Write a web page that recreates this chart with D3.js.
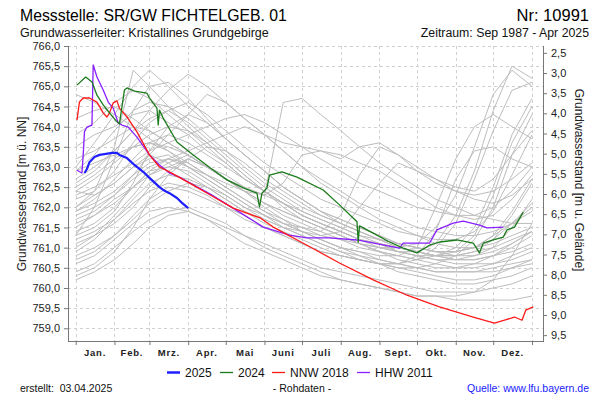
<!DOCTYPE html>
<html><head><meta charset="utf-8">
<script src="https://cdn.jsdelivr.net/npm/d3@7"></script>
<style>
body{margin:0;background:#fff;}
svg{display:block;font-family:"Liberation Sans",Arial,sans-serif;}
</style></head>
<body>
<svg id="c" width="600" height="400"></svg>
<script>
// ---------- data ----------
const months = ["Jan.","Feb.","Mrz.","Apr.","Mai","Juni","Juli","Aug.","Sept.","Okt.","Nov.","Dez."];
const monthStarts = [0,31,59,90,120,151,181,212,243,273,304,334,365];
const levelTicks = [759,759.5,760,760.5,761,761.5,762,762.5,763,763.5,764,764.5,765,765.5,766];
const depthTicks = [2.5,3,3.5,4,4.5,5,5.5,6,6.5,7,7.5,8,8.5,9,9.5];
const groundLevel = 768.33;

// gray years: semi-monthly sampling days
const grayDays = [0,15,31,46,59,74,90,105,120,135,151,166,181,196,212,227,243,258,273,288,304,319,334,349,365];
const grayYears = [
[763.0,763.6,764.3,765.0,765.4,765.0,764.5,764.1,763.7,763.3,762.9,762.5,762.2,761.9,761.7,761.5,761.3,761.1,761.0,760.9,760.9,761.0,761.3,761.6,762.0],
[762.0,762.4,763.5,765.4,765.0,764.5,764.0,763.6,763.2,762.8,762.4,762.0,761.7,761.5,761.3,761.1,760.9,760.7,760.6,760.5,760.5,760.6,760.8,761.1,761.4],
[761.8,762.0,762.3,762.8,763.3,763.8,764.3,764.8,764.6,764.2,763.8,763.4,763.0,762.6,762.3,762.0,761.7,761.5,761.3,761.1,761.0,761.0,761.1,761.3,761.5],
[764.8,764.6,764.3,764.0,763.7,763.4,763.0,762.7,762.4,762.1,761.8,761.6,761.4,761.2,761.0,760.9,760.7,760.6,760.5,760.4,760.4,760.4,760.5,760.6,760.7],
[760.3,760.5,760.9,761.5,762.2,762.8,763.2,763.0,762.7,762.4,762.0,761.7,761.4,761.2,761.0,760.8,760.6,760.5,760.4,760.3,760.2,760.2,760.3,760.5,760.7],
[761.5,761.8,762.2,762.5,762.8,763.0,763.2,763.0,762.8,762.5,762.3,764.6,764.7,764.3,763.9,763.5,763.1,762.8,762.5,762.2,762.0,761.8,761.7,761.6,761.6],
[762.5,762.8,763.2,763.5,763.6,763.4,763.1,762.8,762.5,762.2,761.9,761.7,761.5,761.3,761.2,761.1,761.0,761.0,761.1,761.5,762.3,763.5,764.8,765.4,765.0],
[761.0,761.3,761.8,762.3,762.8,763.1,763.3,763.0,762.7,762.4,762.1,761.8,761.6,761.4,761.2,761.0,760.9,760.8,760.7,760.8,761.0,761.5,762.5,763.8,764.7],
[763.5,763.8,764.0,764.3,764.4,764.1,763.8,763.4,763.1,762.7,762.4,762.1,761.8,761.6,761.4,761.2,761.0,760.9,760.8,760.7,760.7,760.8,761.0,761.5,762.2],
[762.7,763.0,763.4,763.9,764.2,764.4,764.1,763.7,763.3,762.9,762.5,762.2,761.9,761.7,761.5,761.3,761.1,761.0,760.9,760.8,760.8,760.9,761.2,761.8,762.6],
[760.6,760.8,761.2,761.6,761.9,762.0,761.9,761.7,761.5,761.3,761.1,760.9,760.7,760.5,760.4,760.3,760.2,760.1,760.0,759.9,759.9,759.9,760.0,760.1,760.3],
[761.3,761.5,761.9,762.6,763.4,764.0,764.3,764.1,763.7,763.3,762.9,762.5,762.2,761.9,761.6,761.4,761.2,761.0,760.9,760.8,760.7,760.7,760.8,760.9,761.1],
[762.0,762.3,762.6,763.0,763.3,763.1,762.8,762.5,762.2,761.9,761.7,761.5,761.4,761.3,761.4,762.0,762.6,763.1,762.9,762.7,762.5,762.4,762.7,763.3,763.9],
[763.8,764.1,764.6,764.9,764.7,764.3,763.9,763.5,763.1,762.7,762.4,762.1,761.8,761.6,761.4,761.2,761.1,761.0,760.9,760.8,760.8,760.9,761.0,761.2,761.4],
[761.9,762.2,762.7,763.2,763.6,763.8,763.6,763.3,763.0,762.7,762.4,762.1,761.8,761.6,761.4,761.2,761.1,760.9,760.8,760.7,760.6,760.6,760.6,760.7,760.9],
[762.3,762.5,762.8,763.1,763.4,763.6,763.8,764.0,764.2,764.3,764.1,763.8,763.5,763.2,762.9,762.6,762.4,762.2,762.0,761.9,761.8,761.8,762.0,762.4,763.0],
[761.7,761.9,762.3,762.7,763.0,763.2,763.4,763.6,763.8,764.0,763.8,763.6,763.5,763.4,763.3,763.1,762.9,762.6,762.3,762.0,761.8,761.7,761.8,762.2,762.8],
[761.4,761.6,762.0,762.5,762.9,763.2,763.1,762.8,762.5,762.2,761.9,761.6,761.4,761.2,761.0,760.9,760.8,760.8,761.0,762.0,763.2,764.0,764.3,764.0,763.7],
[760.4,760.6,761.0,761.4,761.7,761.9,762.0,761.8,761.6,761.3,761.0,760.8,760.6,760.4,760.2,760.1,760.0,759.9,759.8,759.8,759.8,759.9,760.2,760.8,761.6],
[762.9,763.3,763.9,764.4,764.6,764.5,764.2,763.8,763.4,763.0,762.6,762.3,762.0,761.8,761.6,761.4,761.2,761.1,761.0,760.9,760.9,761.0,761.3,761.9,762.7],
[761.1,761.3,761.6,762.0,762.5,762.9,763.2,763.5,763.4,763.1,762.7,762.4,762.1,761.8,761.6,761.4,761.2,761.0,760.9,760.8,760.7,760.7,760.8,761.0,761.3],
[760.9,761.2,761.7,762.2,762.6,762.8,762.7,762.5,762.2,761.9,761.6,761.4,761.2,761.0,760.8,760.7,760.6,760.5,760.5,760.6,760.8,761.2,762.0,763.3,764.3],
[762.6,762.9,763.4,763.9,764.4,764.9,765.3,765.0,764.6,764.2,763.8,763.4,763.0,762.7,762.4,762.1,761.9,761.7,761.5,761.4,761.3,761.3,761.4,761.6,761.9],
[763.2,763.4,763.7,764.0,763.9,763.6,763.3,763.0,762.7,762.4,762.1,761.9,761.7,761.5,761.3,761.1,760.9,760.8,760.7,760.6,760.5,760.5,760.6,760.8,761.0],
[761.6,761.8,762.1,762.5,762.9,763.0,762.9,762.6,762.3,762.0,761.8,761.6,761.5,761.4,761.8,762.8,763.5,763.3,763.0,762.7,762.4,762.2,762.1,762.3,762.7],
[762.4,762.7,763.1,763.5,763.8,764.0,763.9,763.6,763.2,762.8,762.4,762.1,761.8,761.6,761.4,761.2,761.1,760.9,760.8,760.8,760.9,761.3,762.3,763.6,764.5],
[761.2,761.4,761.7,762.1,762.4,762.6,762.5,762.3,762.0,761.8,761.5,761.3,761.1,760.9,760.8,760.7,760.6,760.6,760.7,761.0,761.6,762.7,763.9,764.9,765.1],
[760.8,761.0,761.3,761.7,762.1,762.4,762.6,762.5,762.3,762.0,761.7,761.5,761.3,761.1,760.9,760.7,760.6,760.4,760.3,760.2,760.1,760.1,760.2,760.3,760.5],
[764.2,764.4,764.5,764.2,763.9,763.6,763.3,763.0,762.7,762.5,762.3,762.1,761.9,761.7,761.5,761.3,761.2,761.1,761.0,760.9,760.9,761.0,761.2,761.6,762.1],
[762.2,762.4,762.9,763.6,764.1,764.4,764.6,764.3,763.9,763.5,763.1,762.8,762.5,762.2,762.0,761.8,761.6,761.4,761.3,761.2,761.2,761.4,761.9,762.8,763.8],
[760.2,760.4,760.7,761.1,761.5,761.8,761.9,761.7,761.4,761.1,760.9,760.7,760.5,760.3,760.2,760.1,760.0,759.9,759.8,759.8,759.7,759.7,759.7,759.7,759.8],
[761.3,762.0,763.2,764.4,765.0,765.1,764.7,764.2,763.7,763.3,762.9,762.5,762.2,761.9,761.7,761.5,761.3,761.1,761.0,760.9,760.8,760.8,760.9,761.1,761.4],
[761.9,762.1,762.4,762.8,763.1,763.2,763.0,762.8,762.6,762.4,762.3,762.6,763.3,763.4,763.2,763.5,763.6,763.3,762.9,762.6,762.4,762.3,762.4,762.7,763.1],
[760.7,760.9,761.3,761.8,762.2,762.5,762.4,762.2,762.0,761.7,761.5,761.3,761.1,760.9,760.8,760.7,760.6,760.6,760.8,761.4,762.7,763.4,763.5,763.2,763.0],
[762.9,763.1,763.3,763.5,763.6,763.5,763.3,763.0,762.7,762.4,762.1,761.9,761.7,761.5,761.3,761.1,761.0,760.9,760.9,761.1,761.8,762.9,764.4,765.5,765.2],
[762.4,762.3,762.6,763.0,763.2,763.3,763.0,762.7,762.4,762.1,761.8,761.5,761.3,761.1,760.9,760.8,760.7,760.6,760.5,760.4,760.4,760.4,760.4,760.5,760.6]
];

// highlighted years (day of year, level m ü. NN)
const days2025 = [7,9,11,15,19,23,29,33,35,41,47,54,59,67,70,75,81,85,90];
const level2025 = [762.85,762.95,763.12,763.25,763.30,763.32,763.35,763.35,763.30,763.22,763.05,762.88,762.73,762.50,762.43,762.35,762.23,762.11,761.98];

const days2024 = [1,8,13,17,22,27,33,35,39,41,47,57,59,65,66,67,70,81,94,108,121,134,145,147,149,153,155,165,177,198,211,225,226,227,238,251,262,273,283,291,305,318,323,326,334,342,345,351,358];
const level2024 = [765.03,765.23,765.11,764.78,764.54,764.34,764.12,764.07,764.91,764.96,764.88,764.83,764.71,764.46,764.04,764.41,764.21,763.62,763.30,762.97,762.68,762.48,762.35,762.01,762.35,762.48,762.80,762.88,762.75,762.43,762.06,761.64,761.14,761.54,761.36,761.14,760.99,760.87,761.06,761.14,761.19,761.11,760.87,761.11,761.19,761.26,761.44,761.51,761.88];

const days2018 = [1,3,6,11,17,22,25,27,30,33,35,41,49,59,67,75,94,108,126,148,158,185,211,238,265,291,318,335,343,351,357,360,366];
const level2018 = [764.16,764.61,764.71,764.71,764.61,764.34,764.24,764.34,764.59,764.64,764.46,764.24,763.87,763.30,763.00,762.88,762.55,762.30,761.98,761.73,761.51,761.06,760.62,760.20,759.82,759.53,759.28,759.13,759.20,759.28,759.20,759.45,759.53];

const days2011 = [1,5,6,7,9,13,14,17,22,26,30,34,37,42,49,59,67,75,83,108,131,150,171,185,203,225,259,262,283,289,302,310,323,329,342];
const level2011 = [762.92,762.85,763.30,763.87,763.99,764.04,765.53,765.23,764.91,764.61,764.46,764.09,764.04,763.99,763.74,763.30,763.05,762.85,762.75,762.32,761.88,761.51,761.31,761.24,761.24,761.19,760.99,761.11,761.11,761.44,761.61,761.66,761.56,761.49,761.51];

const legendLabels = ["2025","2024","NNW 2018","HHW 2011"];
const legendColors = ["#1f1fff","#1b7a1b","#ff1a1a","#8a1fff"];

// ---------- drawing ----------
const svg = d3.select("#c");
const x = d3.scaleLinear().domain([0,365]).range([75.7,532.0]);
const y = d3.scaleLinear().domain([759,766]).range([328.3,46]);
const yDepth = d3.scaleLinear().domain([groundLevel-759, groundLevel-766]).range([y(759), y(766)]);
const plotL = 68, plotR = 543, plotT = 46, plotB = 341;
const loc = d3.formatLocale({decimal:",",thousands:".",grouping:[3],currency:["","€"]});
const fmt = loc.format(".1f");

// grid
const grid = svg.append("g");
grid.selectAll("line.h").data(levelTicks).join("line")
  .attr("x1",plotL).attr("x2",plotR).attr("y1",d=>Math.round(y(d))+0.5).attr("y2",d=>Math.round(y(d))+0.5)
  .attr("stroke","#d0d0d0").attr("stroke-dasharray","3,3");
grid.selectAll("line.v").data(monthStarts).join("line")
  .attr("x1",d=>Math.round(x(d))+0.5).attr("x2",d=>Math.round(x(d))+0.5).attr("y1",plotT).attr("y2",plotB)
  .attr("stroke","#d0d0d0").attr("stroke-dasharray","3,3");

// lines
svg.append("clipPath").attr("id","pc").append("rect")
  .attr("x",plotL).attr("y",plotT).attr("width",plotR-plotL).attr("height",plotB-plotT);
const gl = svg.append("g").attr("clip-path","url(#pc)");
const line = d3.line().x(d=>x(d[0])).y(d=>y(d[1]));
grayYears.forEach(vals=>{
  gl.append("path").datum(grayDays.map((d,i)=>[d,vals[i]]))
    .attr("d",line).attr("fill","none").attr("stroke","#bdbdbd").attr("stroke-width",1);
});
const hl = [
  [days2011,level2011,legendColors[3],1.3],
  [days2018,level2018,legendColors[2],1.3],
  [days2024,level2024,legendColors[1],1.3],
  [days2025,level2025,legendColors[0],2.2]
];
hl.forEach(([ds,vs,c,w])=>{
  gl.append("path").datum(ds.map((d,i)=>[d,vs[i]]))
    .attr("d",line).attr("fill","none").attr("stroke",c).attr("stroke-width",w).attr("stroke-linejoin","round");
});

// axes
const axisColor = "#777";
const gL = svg.append("g").attr("transform",`translate(${plotL},0)`)
  .call(d3.axisLeft(y).tickValues(levelTicks).tickFormat(fmt).tickSize(4).tickSizeOuter(0));
const gR = svg.append("g").attr("transform",`translate(${plotR},0)`)
  .call(d3.axisRight(yDepth).tickValues(depthTicks).tickFormat(fmt).tickSize(4).tickSizeOuter(0));
const gB = svg.append("g").attr("transform",`translate(0,${plotB})`)
  .call(d3.axisBottom(x).tickValues(monthStarts).tickFormat("").tickSize(4).tickSizeOuter(0));
[gL,gR,gB].forEach(g=>{
  g.select(".domain").remove();
  g.selectAll(".tick line").attr("stroke",axisColor);
  g.selectAll("text").attr("font-size",11).attr("fill","#222").attr("font-family","Liberation Sans, Arial, sans-serif");
});
gL.selectAll("text").attr("x",-8);
gR.selectAll("text").attr("x",8);
svg.append("line").attr("x1",plotL+0.5).attr("x2",plotL+0.5).attr("y1",plotT).attr("y2",plotB).attr("stroke",axisColor);
svg.append("line").attr("x1",plotR+0.5).attr("x2",plotR+0.5).attr("y1",plotT).attr("y2",plotB).attr("stroke",axisColor);
svg.append("line").attr("x1",plotL).attr("x2",plotR+1).attr("y1",plotB+0.5).attr("y2",plotB+0.5).attr("stroke",axisColor);

// month labels
svg.append("g").selectAll("text").data(months).join("text")
  .attr("x",(d,i)=>x((monthStarts[i]+monthStarts[i+1])/2)).attr("y",356)
  .attr("text-anchor","middle").attr("font-size",9.5).attr("font-weight","bold").attr("letter-spacing",0.8)
  .attr("fill","#222").text(d=>d);

// axis titles
svg.append("text").attr("transform","translate(26,194) rotate(-90)").attr("text-anchor","middle")
  .attr("font-size",12).attr("fill","#222").text("Grundwasserstand [m ü. NN]");
svg.append("text").attr("transform","translate(575,180) rotate(90)").attr("text-anchor","middle")
  .attr("font-size",12).attr("fill","#222").text("Grundwasserstand [m u. Gelände]");

// titles
svg.append("text").attr("x",20).attr("y",21).attr("font-size",15.8).attr("fill","#000").text("Messstelle: SR/GW FICHTELGEB. 01");
svg.append("text").attr("x",589).attr("y",21).attr("text-anchor","end").attr("font-size",16.5).attr("fill","#000").text("Nr: 10991");
svg.append("text").attr("x",20).attr("y",37).attr("font-size",12.5).attr("fill","#111").text("Grundwasserleiter: Kristallines Grundgebirge");
svg.append("text").attr("x",589).attr("y",37).attr("text-anchor","end").attr("font-size",12.3).attr("fill","#111").text("Zeitraum: Sep 1987 - Apr 2025");

// legend
const lg = svg.append("g");
const legX = [167,220,272,357];
legendLabels.forEach((t,i)=>{
  lg.append("line").attr("x1",legX[i]).attr("x2",legX[i]+13).attr("y1",372.5).attr("y2",372.5)
    .attr("stroke",legendColors[i]).attr("stroke-width",i===0?2.5:1.3);
  lg.append("text").attr("x",legX[i]+18).attr("y",377).attr("font-size",12).attr("fill","#111").text(t);
});

// footer
svg.append("text").attr("x",20).attr("y",392).attr("font-size",10.5).attr("fill","#111").attr("xml:space","preserve").text("erstellt:  03.04.2025");
svg.append("text").attr("x",302).attr("y",392).attr("text-anchor","middle").attr("font-size",10.5).attr("fill","#111").text("- Rohdaten -");
svg.append("text").attr("x",589).attr("y",392).attr("text-anchor","end").attr("font-size",10.5).attr("fill","#1a1aff").text("Quelle: www.lfu.bayern.de");
</script>
</body></html>
